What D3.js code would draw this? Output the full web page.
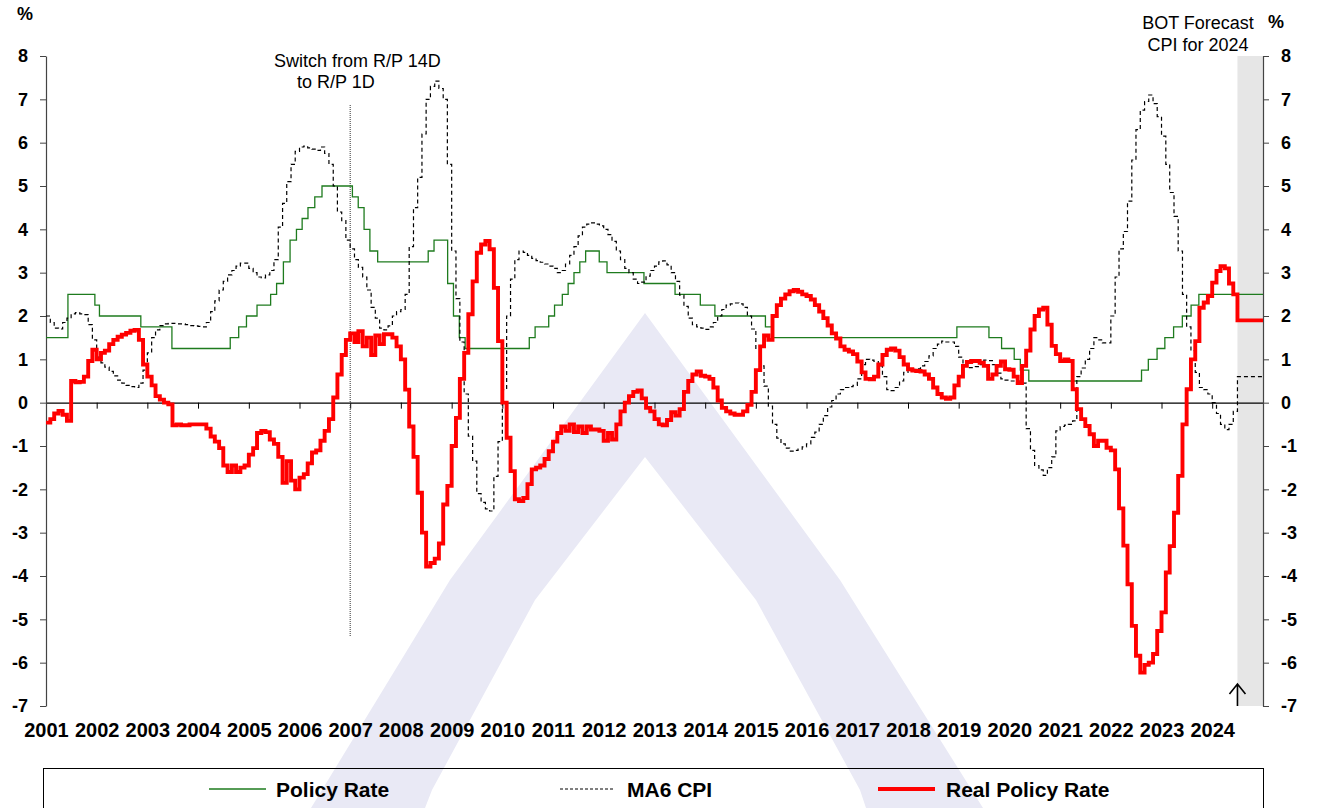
<!DOCTYPE html>
<html><head><meta charset="utf-8">
<script src="https://cdn.jsdelivr.net/npm/d3@7"></script>
<style>
body{margin:0;background:#fff}
svg{display:block}
text{font-family:"Liberation Sans",Arial,sans-serif}
</style>
</head><body>
<svg id="chart" width="1318" height="808"></svg>
<script>
// ---------------- DATA ----------------
const yearLabels = d3.range(2001, 2025);
const yTickValues = d3.range(-7, 9);

// BOT policy rate: dates of each change and the new level (%)
const policyDates = ["2001-01-01","2001-06-08","2001-12-19","2002-01-21","2002-11-15","2003-06-27","2004-08-20","2004-10-20","2004-12-15","2005-03-01","2005-06-07","2005-07-20","2005-09-07","2005-10-25","2005-12-10","2006-01-20","2006-03-03","2006-04-21","2006-06-12","2007-01-17","2007-02-28","2007-04-11","2007-05-23","2007-07-18","2008-07-16","2008-08-27","2008-12-03","2009-01-14","2009-02-25","2009-04-08","2010-07-14","2010-08-25","2010-12-01","2011-01-12","2011-03-09","2011-04-20","2011-06-01","2011-07-13","2011-08-24","2011-11-30","2012-01-25","2012-10-17","2013-05-29","2013-11-27","2014-03-12","2015-03-11","2015-04-29","2018-12-19","2019-08-07","2019-11-06","2020-02-05","2020-03-20","2020-05-20","2022-08-10","2022-09-28","2022-11-30","2023-01-25","2023-03-29","2023-05-31","2023-08-02","2023-09-27","2025-01-01"];
const policyValues = [1.5,2.5,2.25,2.0,1.75,1.25,1.5,1.75,2.0,2.25,2.5,2.75,3.25,3.75,4.0,4.25,4.5,4.75,5.0,4.75,4.5,4.0,3.5,3.25,3.5,3.75,2.75,2.0,1.5,1.25,1.5,1.75,2.0,2.25,2.5,2.75,3.0,3.25,3.5,3.25,3.0,2.75,2.5,2.25,2.0,1.75,1.5,1.75,1.5,1.25,1.0,0.75,0.5,0.75,1.0,1.25,1.5,1.75,2.0,2.25,2.5,2.5];

// MA6 CPI, monthly from Jan 2001 to Jun 2024 (%)
const cpiMA6 = [
 2.0,1.85,1.72,1.7,1.85,1.95,2.05,2.08,2.05,2.03,1.8,1.45,
 1.05,0.92,0.82,0.72,0.62,0.52,0.45,0.4,0.37,0.35,0.45,0.75,
 1.15,1.5,1.68,1.78,1.82,1.83,1.83,1.82,1.82,1.8,1.78,1.77,
 1.76,1.75,1.85,2.1,2.35,2.6,2.8,2.95,3.05,3.15,3.22,3.22,
 3.1,3.0,2.9,2.88,2.95,3.05,3.3,4.05,4.6,5.1,5.5,5.8,
 5.9,5.92,5.88,5.85,5.82,5.9,5.75,5.5,5.0,4.4,4.2,3.75,
 3.55,3.3,3.12,2.9,2.6,2.2,1.95,1.72,1.68,1.77,2.0,2.1,
 2.15,2.5,3.6,4.5,5.2,6.2,7.0,7.3,7.42,7.25,7.0,5.5,
 3.5,2.4,1.4,0.2,-0.77,-1.35,-2.1,-2.3,-2.45,-2.5,-1.7,-0.9,
 0.3,2.0,2.85,3.3,3.5,3.47,3.4,3.33,3.28,3.24,3.2,3.15,
 3.1,3.0,3.05,3.2,3.4,3.6,3.85,4.05,4.12,4.15,4.12,4.08,
 4.0,3.88,3.72,3.5,3.3,3.1,3.0,2.85,2.75,2.78,2.92,3.05,
 3.15,3.25,3.27,3.18,3.0,2.8,2.48,2.22,1.95,1.8,1.75,1.72,
 1.69,1.75,1.85,2.0,2.15,2.25,2.28,2.3,2.28,2.2,2.0,1.7,
 1.25,0.85,0.38,-0.08,-0.5,-0.82,-0.95,-1.05,-1.12,-1.1,-1.07,-1.02,
 -0.95,-0.8,-0.68,-0.5,-0.3,-0.1,0.05,0.2,0.3,0.35,0.37,0.4,
 0.55,0.88,1.0,0.98,0.95,0.85,0.6,0.3,0.28,0.35,0.5,0.7,
 0.76,0.77,0.78,0.85,0.95,1.08,1.25,1.35,1.42,1.4,1.4,1.3,
 1.05,0.9,0.81,0.81,0.83,0.88,0.98,0.97,0.88,0.68,0.55,0.52,
 0.5,0.5,0.5,0.45,-0.6,-1.1,-1.45,-1.55,-1.68,-1.5,-1.25,-0.65,
 -0.55,-0.52,-0.5,-0.42,0.6,0.8,1.0,1.25,1.5,1.45,1.38,1.38,
 2.0,2.9,3.55,3.95,4.65,5.6,6.3,6.75,6.95,7.1,6.9,6.6,
 6.15,5.5,4.85,4.3,3.5,2.5,1.75,1.2,0.7,0.35,0.3,0.2,
 0.0,-0.25,-0.5,-0.62,-0.5,-0.2
];
// BOT forecast CPI for 2024 (Jul–Dec 2024)
const cpiForecast = [0.6,0.6,0.6,0.6,0.6,0.6];

// Real policy rate, monthly from Jan 2001 to Jun 2024 (%)
const realRate = [
 -0.46,-0.38,-0.25,-0.19,-0.28,-0.42,0.5,0.47,0.48,0.6,0.96,1.22,
 1.0,1.15,1.2,1.35,1.45,1.52,1.57,1.61,1.66,1.68,1.45,0.88,
 0.6,0.4,0.15,0.07,0.0,-0.04,-0.52,-0.5,-0.52,-0.52,-0.5,-0.5,
 -0.5,-0.5,-0.6,-0.78,-0.9,-1.05,-1.45,-1.6,-1.45,-1.6,-1.5,-1.45,
 -1.2,-1.05,-0.7,-0.65,-0.68,-0.85,-0.95,-1.25,-1.85,-1.35,-1.8,-2.0,
 -1.73,-1.65,-1.4,-1.15,-1.1,-0.88,-0.65,-0.38,0.12,0.65,1.1,1.45,
 1.6,1.4,1.65,1.3,1.5,1.1,1.55,1.35,1.58,1.58,1.5,1.3,
 1.0,0.3,-0.55,-1.25,-2.08,-3.0,-3.78,-3.7,-3.6,-3.25,-2.35,-1.92,
 -1.0,-0.35,0.55,1.15,2.04,2.8,3.46,3.65,3.73,3.54,2.65,1.42,
 0.0,-0.81,-1.58,-2.23,-2.27,-2.2,-1.88,-1.54,-1.5,-1.45,-1.3,-1.12,
 -0.9,-0.7,-0.55,-0.65,-0.5,-0.68,-0.55,-0.7,-0.55,-0.62,-0.62,-0.65,
 -0.88,-0.7,-0.85,-0.5,-0.2,0.0,0.15,0.25,0.28,0.1,-0.12,-0.2,
 -0.38,-0.5,-0.52,-0.4,-0.22,-0.3,-0.15,0.25,0.5,0.65,0.72,0.62,
 0.6,0.55,0.35,0.05,-0.12,-0.2,-0.25,-0.28,-0.28,-0.2,-0.05,0.25,
 0.75,1.3,1.55,1.45,2.0,2.25,2.4,2.5,2.57,2.6,2.56,2.5,
 2.46,2.38,2.25,2.1,1.95,1.78,1.6,1.48,1.3,1.22,1.18,1.12,
 0.95,0.7,0.55,0.54,0.6,0.88,1.1,1.22,1.25,1.2,1.05,0.88,
 0.77,0.74,0.73,0.72,0.65,0.55,0.35,0.2,0.12,0.09,0.12,0.4,
 0.6,0.85,0.94,0.96,0.96,0.92,0.85,0.55,0.65,0.85,0.95,0.77,
 0.76,0.6,0.45,0.85,1.2,1.69,2.0,2.15,2.19,1.8,1.31,1.12,
 0.96,1.0,0.96,0.31,-0.15,-0.38,-0.54,-0.73,-1.0,-0.88,-0.88,-1.04,
 -1.1,-1.54,-2.44,-3.3,-4.19,-5.15,-5.84,-6.23,-6.05,-6.0,-5.8,-5.27,
 -4.84,-3.92,-3.31,-2.54,-1.69,-0.5,0.31,1.0,1.42,2.19,2.31,2.46,
 2.77,3.04,3.15,3.1,2.75,2.5
];
const realForecast = [1.9,1.9,1.9,1.9,1.9,1.9];

const forecastStart = "2024-07-01";
const seriesNames = ["Policy Rate", "MA6 CPI", "Real Policy Rate"];

// ---------------- CHART ----------------
(function(){
const svg = d3.select("#chart");
const W = 1318, H = 808;
const pL = 46, pR = 1263, pT = 56, pB = 706;
const parse = d3.utcParse("%Y-%m-%d");
const start = new Date(Date.UTC(2001,0,1)), end = new Date(Date.UTC(2025,0,1));

const x = d3.scaleUtc().domain([start, end]).range([pL, pR]);
const y = d3.scaleLinear().domain([-7, 8]).range([pB, pT]);

svg.append("rect").attr("width", W).attr("height", H).attr("fill", "#fff");

// watermark (background logo)
svg.append("path")
  .attr("d", "M645,313 L840,580 L983,808 L866,808 L860,790 L756,600 L645,457 L535,600 L432,790 L425,808 L311,808 L450,580 Z")
  .attr("fill", "#e9e9f5");

// forecast band
svg.append("rect")
  .attr("x", x(parse(forecastStart))).attr("y", pT)
  .attr("width", x(end) - x(parse(forecastStart))).attr("height", pB - pT)
  .attr("fill", "#e6e6e6");

const monthly = arr => arr.map((v, i) => ({d: new Date(Date.UTC(2001, i, 1)), v}));
const withEnd = pts => pts.concat([{d: end, v: pts[pts.length - 1].v}]);
const cpiPts = withEnd(monthly(cpiMA6.concat(cpiForecast)));
const realPts = withEnd(monthly(realRate.concat(realForecast)));
const policyPts = policyDates.map((s, i) => ({d: parse(s), v: policyValues[i]}));

const line = d3.line().x(p => x(p.d)).y(p => y(p.v)).curve(d3.curveStepAfter);
const yearDates = yearLabels.map(yr => new Date(Date.UTC(yr,0,1)));

// zero axis with year ticks
const zeroAxis = svg.append("g").attr("transform", `translate(0,${y(0)})`)
  .call(d3.axisBottom(x).tickValues(yearDates).tickSize(6).tickSizeOuter(0).tickFormat(""));
zeroAxis.select(".domain").attr("stroke", "#000").attr("stroke-width", 1.2);
zeroAxis.selectAll(".tick line").attr("stroke", "#000");

// year labels
const yearAxis = svg.append("g").attr("transform", `translate(0,${pB})`)
  .call(d3.axisBottom(x).tickValues(yearDates).tickSize(0).tickPadding(17).tickFormat(d3.utcFormat("%Y")));
yearAxis.select(".domain").remove();
yearAxis.selectAll("text").attr("font-size", 20).attr("font-weight", "bold").attr("fill", "#000")
  .attr("font-family", "Liberation Sans, Arial, sans-serif");

function styleAxis(g){
  g.select(".domain").attr("stroke", "#444").attr("stroke-width", 1.2);
  g.selectAll(".tick line").attr("stroke", "#444");
  g.selectAll("text").attr("font-size", 18).attr("font-weight", "bold").attr("fill", "#000")
    .attr("font-family", "Liberation Sans, Arial, sans-serif");
}
const fmt = d => String(d);
svg.append("g").attr("transform", `translate(${pL},0)`)
  .call(d3.axisLeft(y).tickValues(yTickValues).tickSize(6).tickSizeOuter(0).tickPadding(12).tickFormat(fmt))
  .call(styleAxis);
svg.append("g").attr("transform", `translate(${pR},0)`)
  .call(d3.axisRight(y).tickValues(yTickValues).tickSize(6).tickSizeOuter(0).tickPadding(12).tickFormat(fmt))
  .call(styleAxis);

svg.append("text").attr("x", 17).attr("y", 20).attr("font-size", 18).attr("font-weight", "bold").text("%");
svg.append("text").attr("x", 1268).attr("y", 28).attr("font-size", 18).attr("font-weight", "bold").text("%");

const xSwitch = x(parse("2007-01-01"));
svg.append("line").attr("x1", xSwitch).attr("x2", xSwitch).attr("y1", 105).attr("y2", 636)
  .attr("stroke", "#333").attr("stroke-width", 1).attr("stroke-dasharray", "1,1");
svg.append("text").attr("x", 274).attr("y", 67).attr("font-size", 18).text("Switch from R/P 14D");
svg.append("text").attr("x", 297).attr("y", 88).attr("font-size", 18).text("to R/P 1D");

svg.append("text").attr("x", 1198).attr("y", 29).attr("font-size", 18).attr("text-anchor", "middle").text("BOT Forecast");
svg.append("text").attr("x", 1198).attr("y", 51).attr("font-size", 18).attr("text-anchor", "middle").text("CPI for 2024");

svg.append("path").datum(policyPts).attr("d", line).attr("fill", "none")
  .attr("stroke", "#1e7b1e").attr("stroke-width", 1.3);
svg.append("path").datum(cpiPts).attr("d", line).attr("fill", "none")
  .attr("stroke", "#000").attr("stroke-width", 1.2).attr("stroke-dasharray", "4,3");
svg.append("path").datum(realPts).attr("d", line).attr("fill", "none")
  .attr("stroke", "#ff0000").attr("stroke-width", 3.9);

const xa = x(parse(forecastStart));
svg.append("path").attr("d", `M${xa},706 L${xa},684 M${xa-8},694 L${xa},684 L${xa+8},694`)
  .attr("fill", "none").attr("stroke", "#000").attr("stroke-width", 1.6);

svg.append("rect").attr("x", 43.5).attr("y", 768.5).attr("width", 1220).attr("height", 60)
  .attr("fill", "none").attr("stroke", "#000").attr("stroke-width", 1);
const legendItems = [
  {name: seriesNames[0], x1: 209, x2: 266, tx: 276, color: "#1e7b1e", w: 1.5, dash: null},
  {name: seriesNames[1], x1: 560, x2: 614, tx: 627, color: "#000", w: 1, dash: "3,2"},
  {name: seriesNames[2], x1: 878, x2: 935, tx: 946, color: "#ff0000", w: 3.9, dash: null}
];
const lg = svg.append("g").selectAll("g").data(legendItems).join("g");
lg.append("line").attr("x1", d => d.x1).attr("x2", d => d.x2).attr("y1", 789).attr("y2", 789)
  .attr("stroke", d => d.color).attr("stroke-width", d => d.w).attr("stroke-dasharray", d => d.dash);
lg.append("text").attr("x", d => d.tx).attr("y", 796.5).attr("font-size", 21).attr("font-weight", "bold").text(d => d.name);
})();
</script>
</body></html>
